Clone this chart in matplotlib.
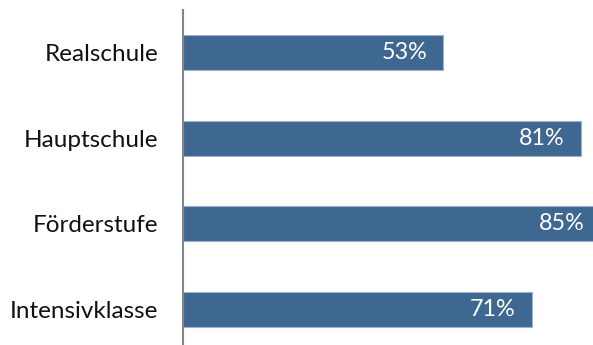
import matplotlib
matplotlib.use('Agg')
import matplotlib.pyplot as plt

# Data
categories = ['Realschule', 'Hauptschule', 'Förderstufe', 'Intensivklasse']
values = [53, 81, 85, 71]
labels = ['53%', '81%', '85%', '71%']

bar_color = '#3e6891'
axis_color = '#868686'

plt.rcParams['font.family'] = ['Lato', 'DejaVu Sans']

W, H = 593, 345
fig = plt.figure(figsize=(W / 100, H / 100), dpi=100)
# axes from x=183 to 593, y=10 to 352 (pixels, top origin)
ax = fig.add_axes([183 / W, (H - 352) / H, (593 - 183) / W, 342 / H])

ypos = list(range(len(categories)))
bars = ax.barh(ypos, values, height=0.41, color=bar_color,
               edgecolor='#9db3cc', linewidth=0.8)
ax.set_ylim(len(categories) - 0.5, -0.5)
ax.set_xlim(0, 410 / 4.91)

for b, lab in zip(bars, labels):
    ax.annotate(lab, (b.get_width(), b.get_y() + b.get_height() / 2),
                xytext=(-16 * 0.72, 0), textcoords='offset points',
                ha='right', va='center', color='white', fontsize=16.8,
                annotation_clip=False)

ax.set_yticks(ypos)
ax.set_yticklabels(categories, fontsize=17.5, color='#111111')
ax.tick_params(axis='y', length=0, pad=18)
ax.set_xticks([])
for s in ['top', 'right', 'bottom']:
    ax.spines[s].set_visible(False)
ax.spines['left'].set_color(axis_color)
ax.spines['left'].set_linewidth(1.5)

fig.savefig('out.png', dpi=100)
